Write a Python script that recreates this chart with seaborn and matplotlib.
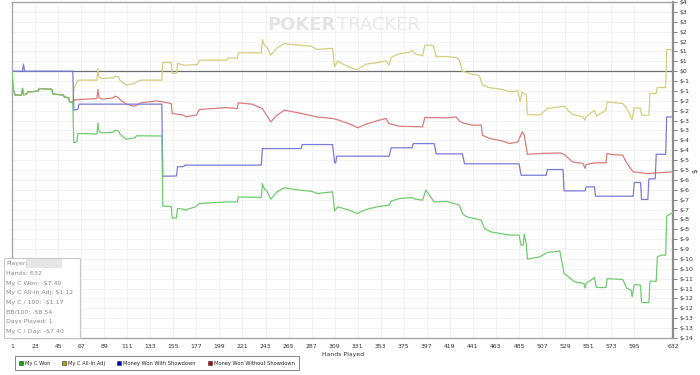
import numpy as np
import pandas as pd
import matplotlib
matplotlib.use('Agg')
import matplotlib.pyplot as plt
from matplotlib.lines import Line2D
from matplotlib.patches import Rectangle
import seaborn as sns

# hands 1-59: won, all-in adj and non-showdown run together
start_hands = [1, 2, 4, 10, 11, 12, 15, 16, 26, 27, 39, 40, 50, 51, 55, 56, 59]
start_vals = [0, -0.9, -1.26, -1.26, -0.9, -1.24, -1.2, -1.09, -1.05, -0.91,
              -0.95, -1.2, -1.25, -1.35, -1.4, -1.61, -1.61]

won_hands = [60, 63, 64, 82, 83, 84, 87, 98, 99, 103, 104, 110, 118, 120, 144, 145, 153, 154, 158, 159,
             165, 166, 177, 178, 180, 206, 216, 217, 239, 240, 242, 244, 248, 254, 261, 275, 287, 292, 304, 307,
             309, 312, 323, 330, 339, 349, 361, 363, 371, 383, 385, 393, 396, 404, 416, 428, 431, 435, 449, 452,
             458, 476, 485, 487, 489, 490, 492, 493, 505, 512, 524, 528, 538, 547, 548, 549, 557, 559, 568, 569,
             584, 588, 592, 593, 595, 601, 602, 609, 610, 616, 617, 621, 625, 626, 632]
won_vals = [-3.76, -3.7, -3.27, -3.3, -2.71, -3.15, -3.24, -3.2, -3.1, -3.15, -3.3, -3.57, -3.5, -3.39, -3.4,
            -7.08, -7.1, -7.71, -7.7, -7.2, -7.25, -7.29, -7.1, -7.03, -6.94, -6.86, -6.86, -6.6, -6.62, -5.9,
            -6.2, -6.24, -6.72, -6.33, -6.12, -6.24, -6.3, -6.42, -6.35, -6.33, -7.33, -7.12, -7.29, -7.47, -7.26,
            -7.12, -7.03, -6.82, -6.68, -6.63, -6.7, -6.77, -6.24, -6.86, -6.83, -7.03, -7.47, -7.64, -7.82, -8.25,
            -8.43, -8.6, -8.6, -9.13, -9.13, -8.55, -9.1, -9.86, -9.74, -9.51, -9.44, -10.61, -11.05, -11.14, -11.37,
            -11.14, -10.83, -11.35, -11.35, -10.88, -10.93, -11.4, -11.49, -11.84, -11.19, -11.23, -12.14, -12.14,
            -11.02, -11.02, -9.74, -9.65, -9.65, -7.6, -7.40]

adj_hands = [60, 63, 64, 82, 83, 84, 87, 98, 99, 103, 104, 110, 118, 120, 124, 144, 145, 153, 154, 158,
             159, 166, 178, 180, 206, 207, 216, 217, 239, 240, 242, 244, 248, 254, 261, 275, 287, 292, 304, 307,
             309, 312, 316, 326, 331, 339, 349, 358, 361, 363, 371, 380, 383, 385, 393, 395, 403, 406, 416, 425,
             428, 431, 440, 447, 450, 457, 469, 476, 484, 486, 488, 492, 493, 505, 512, 524, 528, 536, 546, 548,
             549, 557, 559, 568, 569, 584, 588, 593, 595, 601, 602, 609, 610, 616, 617, 625, 626, 632]
adj_vals = [-0.91, -0.6, -0.47, -0.47, 0.14, -0.3, -0.38, -0.35, -0.26, -0.3, -0.47, -0.73, -0.65, -0.56, -0.47,
            -0.47, 0.46, 0.45, -0.12, -0.1, 0.4, 0.31, 0.35, 0.58, 0.58, 0.7, 0.67, 0.96, 0.96, 1.66,
            1.36, 1.3, 0.84, 1.22, 1.45, 1.36, 1.31, 1.14, 1.19, 1.2, 0.23, 0.54, 0.4, 0.14, 0.09,
            0.37, 0.44, 0.54, 0.31, 0.72, 0.93, 0.98, 1.1, 0.93, 0.8, 1.36, 1.36, 0.75, 0.77, 0.72,
            0.58, 0.0, -0.16, -0.21, -0.73, -0.87, -0.96, -1.08, -1.03, -1.61, -1.1, -1.25, -2.27, -2.31, -1.96,
            -1.87, -1.84, -2.27, -2.4, -2.57, -2.4, -2.05, -2.35, -2.05, -1.61, -1.7, -1.96, -2.54, -1.91, -1.96,
            -2.31, -2.31, -1.17, -1.17, -0.86, -0.86, 1.14, 1.12]

sd_hands = [1, 11, 12, 13, 59, 60, 64, 65, 144, 145, 158, 159, 165, 166, 239, 240, 277, 278, 307, 309,
            310, 311, 361, 363, 383, 384, 404, 406, 431, 433, 485, 487, 511, 512, 527, 528, 548, 549, 557, 558,
            594, 595, 601, 602, 608, 609, 615, 616, 625, 626, 632]
sd_vals = [0, 0, 0.37, 0, 0, -2.05, -2.0, -1.73, -1.73, -5.51, -5.5, -5.02, -5.0, -4.93, -4.93, -4.06, -4.06,
           -3.85, -3.85, -4.81, -4.81, -4.46, -4.46, -4.02, -4.02, -3.8, -3.8, -4.34, -4.34, -4.86, -4.86, -5.46,
           -5.46, -5.16, -5.16, -6.28, -6.28, -6.07, -6.07, -6.56, -6.56, -5.84, -5.84, -6.73, -6.73, -5.65, -5.65,
           -4.36, -4.36, -2.4, -2.4]

nsd_hands = [60, 64, 82, 83, 84, 87, 98, 99, 103, 104, 110, 118, 124, 139, 145, 153, 154, 165, 167, 177,
             180, 206, 216, 217, 230, 240, 248, 254, 261, 275, 292, 307, 313, 326, 331, 339, 349, 358, 361, 371,
             393, 395, 416, 425, 428, 431, 440, 449, 450, 457, 469, 476, 484, 488, 490, 493, 505, 524, 528, 536,
             546, 548, 549, 557, 568, 569, 573, 584, 588, 594, 607, 619, 632]
nsd_vals = [-1.52, -1.49, -1.44, -0.96, -1.38, -1.47, -1.4, -1.31, -1.4, -1.49, -1.73, -1.84, -1.66, -1.56, -1.61,
            -1.7, -2.22, -2.31, -2.4, -2.3, -2.01, -1.91, -1.96, -1.66, -1.73, -1.96, -2.66, -2.31, -2.05, -2.19,
            -2.4, -2.48, -2.57, -2.83, -2.97, -2.78, -2.61, -2.48, -2.75, -2.89, -2.92, -2.43, -2.45, -2.4, -2.61,
            -2.71, -2.83, -2.83, -3.36, -3.53, -3.66, -3.8, -3.71, -3.18, -3.35, -4.36, -4.32, -4.29, -4.36, -4.76,
            -4.84, -5.1, -4.9, -4.81, -4.81, -4.32, -4.37, -4.41, -4.84, -5.28, -5.37, -5.33, -5.28]

series_names = ['My C Won', 'My C All-In Adj', 'Money Won With Showdown', 'Money Won Without Showdown']
line_colors = ['#6fcc6f', '#d4cf80', '#7b7bd9', '#db7b7b']
legend_colors = ['#00b000', '#b0a000', '#0000b0', '#c00000']

x_ticks = [1, 23, 45, 67, 89, 111, 133, 155, 177, 199, 221, 243, 265, 287, 309, 331, 353, 375,
           397, 419, 441, 463, 485, 507, 529, 551, 573, 595, 632]

stats_lines = ['Player:', 'Hands: 632', 'My C Won: -$7.40', 'My C All-In Adj: $1.12',
               'My C / 100: -$1.17', 'BB/100: -58.54', 'Days Played: 1', 'My C / Day: -$7.40']

frames = [
    pd.DataFrame({'hand': start_hands + won_hands, 'value': start_vals + won_vals, 'series': series_names[0]}),
    pd.DataFrame({'hand': start_hands + adj_hands, 'value': start_vals + adj_vals, 'series': series_names[1]}),
    pd.DataFrame({'hand': sd_hands, 'value': sd_vals, 'series': series_names[2]}),
    pd.DataFrame({'hand': start_hands + nsd_hands, 'value': start_vals + nsd_vals, 'series': series_names[3]}),
]
df = pd.concat(frames, ignore_index=True)

sns.set_style('white')
plt.rcParams['font.family'] = ['DejaVu Sans']

fig = plt.figure(figsize=(7, 3.75), dpi=100)
ax = fig.add_axes([12 / 700, 37 / 375, 661 / 700, 336 / 375])

step = 14 / 27
y_ticks = -14 + np.arange(35) * step
ax.set_ylim(-14, y_ticks[-1])
ax.set_xlim(1, 632)

ax.grid(True, color='#f0f0f0', lw=0.6)
ax.set_axisbelow(True)
ax.axhline(0, color='#6e6e6e', lw=0.9, zorder=1.5)

# draw order: yellow, red, blue, green on top
for i in [1, 3, 2, 0]:
    sub = df[df['series'] == series_names[i]]
    sns.lineplot(data=sub, x='hand', y='value', color=line_colors[i], lw=0.9,
                 estimator=None, sort=False, legend=False, ax=ax, zorder=2 + (i == 0))

ax.yaxis.tick_right()
ax.set_yticks(y_ticks)
ax.set_yticklabels([f'${int(round(v))}' for v in y_ticks])
ax.set_xticks(x_ticks)
ax.set_xticklabels([str(t) for t in x_ticks])
ax.tick_params(axis='both', length=3, width=0.6, color='#666666', labelsize=4.4,
               labelcolor='#333333', pad=1.5)
ax.set_xlabel('Hands Played', fontsize=4.4, color='#333333', labelpad=2)
ax.set_ylabel('')

for name, sp in ax.spines.items():
    sp.set_color('#a8a8a8')
    sp.set_linewidth(1.0)
ax.spines['right'].set_linewidth(1.6)
ax.spines['right'].set_color('#8c8c8c')

fig.text(695 / 700, (375 - 171) / 375, '$', rotation=90, fontsize=5, color='#333333',
         ha='center', va='center')

# watermark
fig.text(336 / 700, (375 - 25) / 375, 'POKER', fontsize=13, fontweight='bold', color='#e4e4e4',
         ha='right', va='center', zorder=0.5)
fig.text(337 / 700, (375 - 25) / 375, 'TRACKER', fontsize=13, color='#e8e8e8',
         ha='left', va='center', zorder=0.5)

# stats box
fig.add_artist(Rectangle((4 / 700, 37 / 375), 76 / 700, 80 / 375, transform=fig.transFigure,
                         facecolor='white', edgecolor='#c4c4c4', lw=0.8, alpha=0.9, zorder=5))
fig.add_artist(Rectangle((26 / 700, (375 - 268) / 375), 36 / 700, 9 / 375, transform=fig.transFigure,
                         facecolor='#e6e6e6', edgecolor='none', zorder=6))
for k, line in enumerate(stats_lines):
    fig.text(6 / 700, (375 - 264 - k * 9.6) / 375, line, fontsize=4.5, color='#8a8a8a',
             ha='left', va='center', zorder=7)

handles = [Line2D([], [], marker='s', linestyle='', markersize=3, markerfacecolor=c,
                  markeredgecolor='#333333', markeredgewidth=0.4) for c in legend_colors]
leg = fig.legend(handles, series_names, loc='lower left', bbox_to_anchor=(12 / 700, 2 / 375),
                 ncol=4, fontsize=3.7, frameon=True, fancybox=False, edgecolor='#666666',
                 borderpad=0.9, handlelength=0.6, handletextpad=0.5, columnspacing=2.4)
leg.get_frame().set_linewidth(0.7)

fig.savefig('out.png', dpi=100)
